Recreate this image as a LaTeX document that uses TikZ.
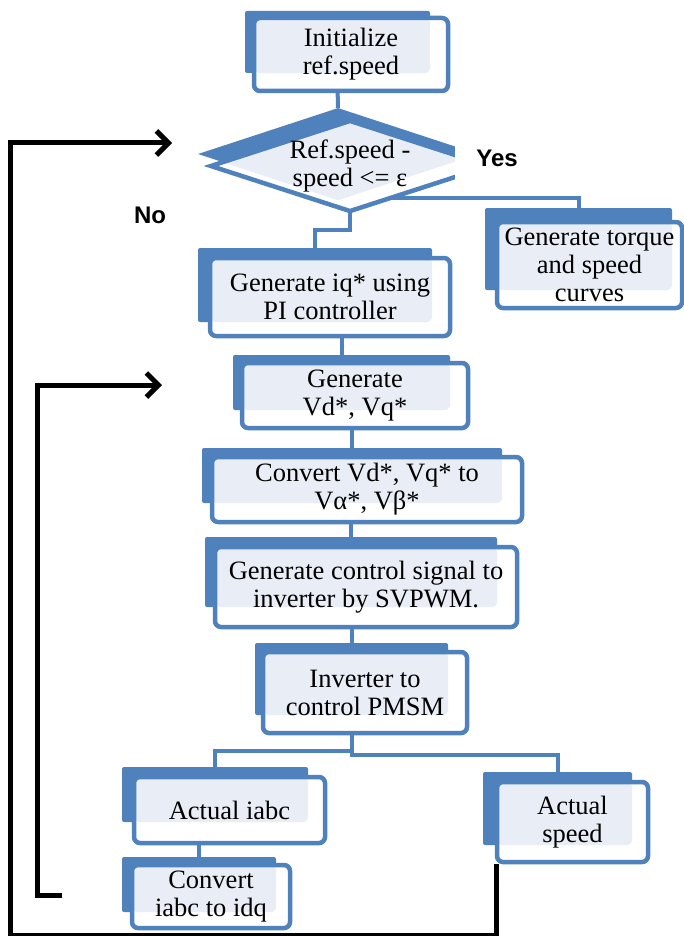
\documentclass[tikz,border=0pt]{standalone}
\usepackage{fontspec}
\setmainfont{Liberation Serif}
\newfontfamily\answerfont{Liberation Sans}
\usetikzlibrary{shapes.geometric,fit,arrows.meta,backgrounds}
\definecolor{boxblue}{RGB}{79,129,189}
\definecolor{boxlight}{RGB}{233,238,246}

% blue block behind, framed block in front, text on top
\newcommand{\flowbox}[6]{%
  \node[backbox, fit={#2 #3}] (#1b) {};
  \node[frontbox, fit={#4 #5},
    path picture={\fill[boxlight] (path picture bounding box.north west) rectangle (#1b.south east);}] (#1) {};
  \node[txt] (#1t) at (#1) {#6};
}

\begin{document}
\begin{tikzpicture}[x=1pt,y=-1pt,
  txt/.style={font=\fontsize{26.5}{28}\selectfont, align=center},
  backbox/.style={fill=boxblue, rounded corners=2pt, inner sep=0pt},
  frontbox/.style={draw=boxblue, line width=4.5pt, rounded corners=6pt, fill=white, inner sep=0pt},
  link/.style={draw=boxblue, line width=4pt},
  fback/.style={draw=black, line width=5pt},
  answer/.style={font=\answerfont\bfseries\fontsize{24}{28}\selectfont}]
  \useasboundingbox (0,0) rectangle (684,936);

  \flowbox{init}{(245,11)}{(430,73)}{(254,18)}{(448,91)}{Initialize\\ref.speed}

% the test
  \node[diamond, fill=boxblue, minimum width=280pt, minimum height=92pt, inner sep=0pt] (decb) at (338,154) {};
  \node[diamond, draw=boxblue, line width=4.5pt, fill=white, minimum width=280pt, minimum height=92pt, inner sep=0pt,
    path picture={\fill[boxlight] (decb.north) -- (decb.east) -- (decb.south) -- (decb.west) -- cycle;}] (dec) at (350,166) {};
  \node[txt] (dectext) at (dec) {Ref.speed -\\speed <= ε};
  \node[answer, fill=white, minimum width=85pt, minimum height=44pt] (yes) at (497,158) {Yes};
  \node[answer] (no) at (150,215) {No};

  \flowbox{torque}{(485,208)}{(672,290)}{(497,222)}{(682,308)}{Generate torque\\and speed\\curves}
  \flowbox{pi}{(198,248)}{(432,322)}{(210,258)}{(450,336)}{Generate iq* using\\PI controller}
  \flowbox{vdq}{(233,355)}{(450,410)}{(242,363)}{(468,428)}{Generate\\Vd*, Vq*}
  \flowbox{conv}{(202,448)}{(502,503)}{(212,457)}{(522,522)}{Convert Vd*, Vq* to\\Vα*, Vβ*}
  \flowbox{svpwm}{(205,537)}{(497,607)}{(215,547)}{(517,627)}{Generate control signal to\\inverter by SVPWM.}
  \flowbox{inv}{(255,643)}{(448,715)}{(263,652)}{(467,733)}{Inverter to\\control PMSM}
  \flowbox{iabc}{(122,767)}{(308,822)}{(134,777)}{(325,843)}{Actual iabc}
  \flowbox{speed}{(483,772)}{(632,845)}{(497,782)}{(648,862)}{Actual\\speed}
  \flowbox{idq}{(122,857)}{(276,912)}{(132,865)}{(290,928)}{Convert\\iabc to idq}

% connectors behind the blocks
  \begin{pgfonlayer}{background}
    \draw[link] (initb) -- (decb);
    \draw[link] (dec) -- ++(0,64) -| (pib);
    \draw[link] (dec) -- ++(0,32) -| (torqueb);
    \draw[link] (pib) -| (vdqb);
    \draw[link] (vdqb) -| (convb);
    \draw[link] (convb) -| (svpwmb);
    \draw[link] (svpwmb) -| (invb);
    \draw[link] (invb) -- ++(0,72) -| (iabcb);
    \draw[link] (invb) -- ++(0,76) -| (speedb);
    \draw[link] (iabcb) -| (idqb);
  \end{pgfonlayer}

% feedback loops
  \coordinate (outerbend) at (10,935);
  \coordinate (outerto) at (172,143);
  \coordinate (innerfrom) at (62,895);
  \coordinate (innerbend) at (37,385);
  \coordinate (innerto) at (162,385);
  \draw[fback, -{Straight Barb[length=12pt,width=24pt]}] ([xshift=2pt]speed.south west) |- (outerbend) |- (outerto);
  \draw[fback, -{Straight Barb[length=12pt,width=24pt]}] (innerfrom) -| (innerbend) -- (innerto);
\end{tikzpicture}
\end{document}
